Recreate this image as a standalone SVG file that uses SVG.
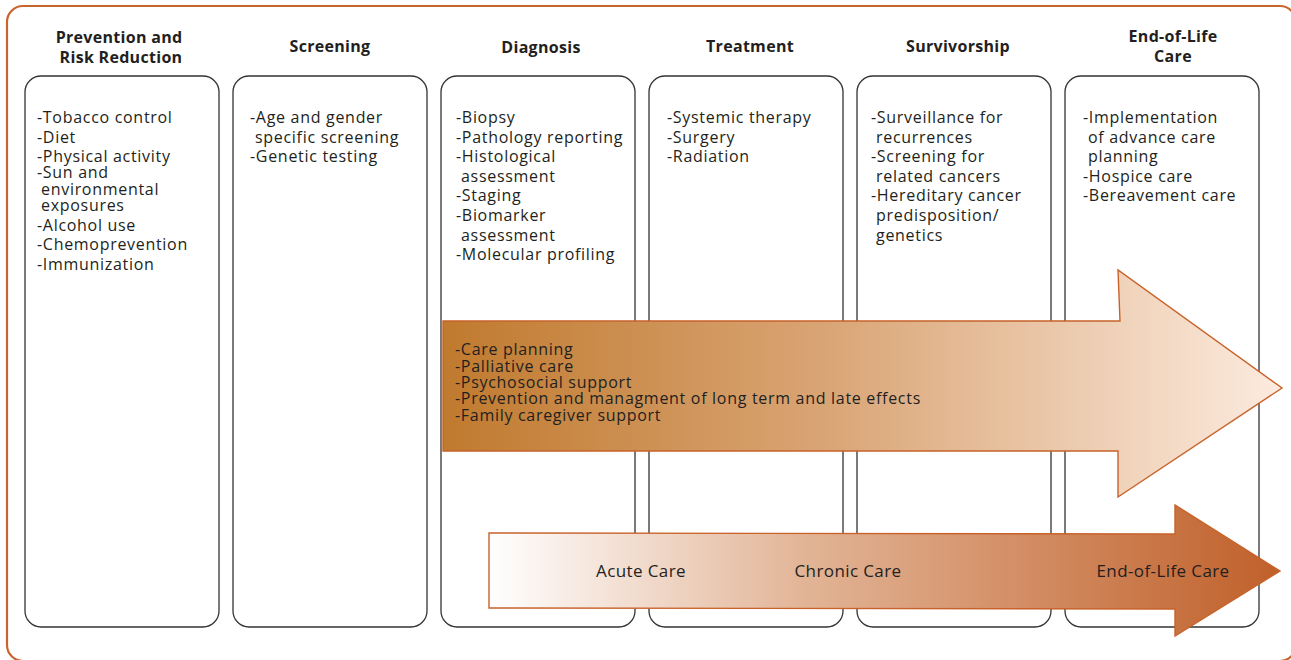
<svg xmlns="http://www.w3.org/2000/svg" width="1291" height="660" viewBox="0 0 1291 660">
<style>
.frame{fill:#fff;stroke:#C8652E;stroke-width:2.2}
.box{fill:#fff;stroke:#333;stroke-width:1.3}
.hd{font-family:"Open Sans","Liberation Sans",sans-serif;font-weight:bold;font-size:16px;letter-spacing:0.3px;fill:#231F20;text-anchor:middle}
.tx{font-family:"Open Sans","Liberation Sans",sans-serif;font-size:16px;letter-spacing:0.7px;fill:#231F20}
.lb{font-family:"Open Sans","Liberation Sans",sans-serif;font-size:17px;letter-spacing:0.4px;fill:#231F20;text-anchor:middle}
.arr{stroke:#C8622A;stroke-width:1.4}
</style>
<defs>
<linearGradient id="g1" x1="443" y1="0" x2="1282" y2="0" gradientUnits="userSpaceOnUse">
<stop offset="0" stop-color="#C07A2E"/>
<stop offset="0.45" stop-color="#D9A474"/>
<stop offset="1" stop-color="#FCEBDF"/>
</linearGradient>
<linearGradient id="g2" x1="489" y1="0" x2="1280" y2="0" gradientUnits="userSpaceOnUse">
<stop offset="0" stop-color="#FFFFFF"/>
<stop offset="0.4" stop-color="#E2B496"/>
<stop offset="1" stop-color="#C0602A"/>
</linearGradient>
</defs>
<rect class="frame" x="7" y="6" width="1289" height="655" rx="16"/>
<g id="col-prevention">
<rect class="box" x="25" y="76" width="194" height="551" rx="16"/>
<text class="hd" x="119" y="43">Prevention and</text>
<text class="hd" x="121" y="63">Risk Reduction</text>
<text class="tx" x="37" y="123">-Tobacco control</text>
<text class="tx" x="37" y="143">-Diet</text>
<text class="tx" x="37" y="162">-Physical activity</text>
<text class="tx" x="37" y="178">-Sun and</text>
<text class="tx" x="41" y="195">environmental</text>
<text class="tx" x="41" y="211">exposures</text>
<text class="tx" x="37" y="231">-Alcohol use</text>
<text class="tx" x="37" y="250">-Chemoprevention</text>
<text class="tx" x="37" y="270">-Immunization</text>
</g>
<g id="col-screening">
<rect class="box" x="233" y="76" width="194" height="551" rx="16"/>
<text class="hd" x="330" y="52">Screening</text>
<text class="tx" x="250" y="123">-Age and gender</text>
<text class="tx" x="255" y="143">specific screening</text>
<text class="tx" x="250" y="162">-Genetic testing</text>
</g>
<g id="col-diagnosis">
<rect class="box" x="441" y="76" width="194" height="551" rx="16"/>
<text class="hd" x="541" y="53">Diagnosis</text>
<text class="tx" x="456" y="123">-Biopsy</text>
<text class="tx" x="456" y="143">-Pathology reporting</text>
<text class="tx" x="456" y="162">-Histological</text>
<text class="tx" x="461" y="182">assessment</text>
<text class="tx" x="456" y="201">-Staging</text>
<text class="tx" x="456" y="221">-Biomarker</text>
<text class="tx" x="461" y="241">assessment</text>
<text class="tx" x="456" y="260">-Molecular profiling</text>
</g>
<g id="col-treatment">
<rect class="box" x="649" y="76" width="194" height="551" rx="16"/>
<text class="hd" x="750" y="52">Treatment</text>
<text class="tx" x="667" y="123">-Systemic therapy</text>
<text class="tx" x="667" y="143">-Surgery</text>
<text class="tx" x="667" y="162">-Radiation</text>
</g>
<g id="col-survivorship">
<rect class="box" x="857" y="76" width="194" height="551" rx="16"/>
<text class="hd" x="958" y="52">Survivorship</text>
<text class="tx" x="871" y="123">-Surveillance for</text>
<text class="tx" x="876" y="143">recurrences</text>
<text class="tx" x="871" y="162">-Screening for</text>
<text class="tx" x="876" y="182">related cancers</text>
<text class="tx" x="871" y="201">-Hereditary cancer</text>
<text class="tx" x="876" y="221">predisposition/</text>
<text class="tx" x="876" y="241">genetics</text>
</g>
<g id="col-endoflife">
<rect class="box" x="1065" y="76" width="194" height="551" rx="16"/>
<text class="hd" x="1173" y="42">End-of-Life</text>
<text class="hd" x="1173" y="62">Care</text>
<text class="tx" x="1083" y="123">-Implementation</text>
<text class="tx" x="1088" y="143">of advance care</text>
<text class="tx" x="1088" y="162">planning</text>
<text class="tx" x="1083" y="182">-Hospice care</text>
<text class="tx" x="1083" y="201">-Bereavement care</text>
</g>
<g id="connectors">
<g id="arrow-continuum">
<path class="arr" fill="url(#g1)" d="M443,321 L1120,321 L1118,270 L1282,388 L1118,497 L1118,451 L443,451 Z"/>
<text class="tx" x="455" y="355">-Care planning</text>
<text class="tx" x="455" y="372">-Palliative care</text>
<text class="tx" x="455" y="388">-Psychosocial support</text>
<text class="tx" x="455" y="404">-Prevention and managment of long term and late effects</text>
<text class="tx" x="455" y="421">-Family caregiver support</text>
</g>
<g id="arrow-care">
<path class="arr" fill="url(#g2)" d="M489,533 L1175,534 L1175,505 L1280,571 L1175,636 L1175,609 L489,608 Z"/>
<text class="lb" x="641" y="577">Acute Care</text>
<text class="lb" x="848" y="577">Chronic Care</text>
<text class="lb" x="1163" y="577">End-of-Life Care</text>
</g>
</g>
</svg>
